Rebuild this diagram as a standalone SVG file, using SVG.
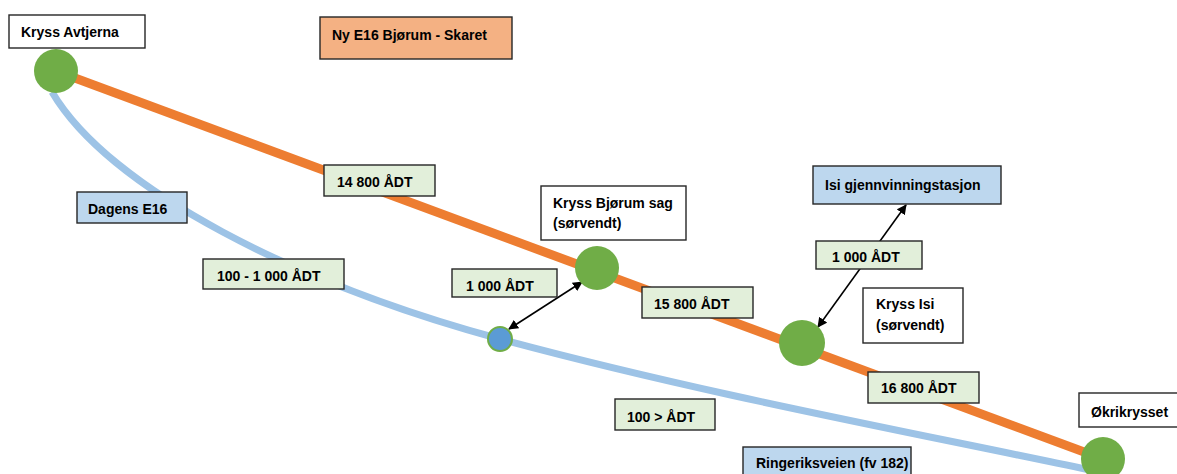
<svg xmlns="http://www.w3.org/2000/svg" width="1177" height="474" viewBox="0 0 1177 474">
  <style>
    .lbl { font-family: "Liberation Sans", Arial, sans-serif; font-weight: bold; font-size: 14px; fill: #000; }
    .box { stroke: #262626; stroke-width: 1.4; }
    .white { fill: #ffffff; }
    .green { fill: #E2EFDA; }
    .blue { fill: #BDD7EE; }
    .orange { fill: #F4B183; }
    .junc { fill: #70AD47; }
    .road-old { fill: none; stroke: #9DC3E6; stroke-width: 7; stroke-linecap: butt; }
    .road-new { fill: none; stroke: #ED7D31; stroke-width: 9; }
    .arrow { stroke: #000; stroke-width: 1.6; fill: none; marker-start: url(#ah); marker-end: url(#ah); }
  </style>
  <defs>
    <marker id="ah" viewBox="0 0 10 10" refX="9" refY="5" markerWidth="10" markerHeight="10" markerUnits="userSpaceOnUse" orient="auto-start-reverse">
      <path d="M0,0 L10,5 L0,10 Z" fill="#000"/>
    </marker>
  </defs>
  <rect width="1177" height="474" fill="#ffffff"/>

  <g id="connectors">
    <path class="road-old" d="M52,92 C110,190 300,285 500,339 C700,393 900,430 1090,470"/>
    <line class="road-new" x1="56" y1="71" x2="1103" y2="459"/>
    <line class="arrow" x1="509" y1="329" x2="582" y2="282"/>
    <line class="arrow" x1="906" y1="205" x2="818" y2="327"/>
  </g>

  <g id="junction-avtjerna"><circle class="junc" cx="56" cy="71" r="22"/></g>
  <g id="junction-bjorum"><circle class="junc" cx="597" cy="268" r="22"/></g>
  <g id="junction-isi"><circle class="junc" cx="802" cy="343" r="23"/></g>
  <g id="junction-okri"><circle class="junc" cx="1103" cy="459" r="22"/></g>
  <g id="junction-old"><circle cx="500" cy="339" r="12" fill="#5B9BD5" stroke="#70AD47" stroke-width="2"/></g>

  <g id="label-avtjerna"><rect class="box white" x="9" y="15" width="136" height="33"/><text class="lbl" x="21" y="37">Kryss Avtjerna</text></g>
  <g id="label-ny-e16"><rect class="box orange" x="320" y="17" width="192" height="42"/><text class="lbl" x="332" y="40">Ny E16 Bjørum - Skaret</text></g>
  <g id="label-14800"><rect class="box green" x="324" y="165" width="111" height="31"/><text class="lbl" x="337" y="187">14 800 ÅDT</text></g>
  <g id="label-dagens"><rect class="box blue" x="77" y="192" width="110" height="31"/><text class="lbl" x="88" y="214">Dagens E16</text></g>
  <g id="label-100-1000"><rect class="box green" x="203" y="259" width="141" height="30"/><text class="lbl" x="217" y="281">100 - 1 000 ÅDT</text></g>
  <g id="label-bjorum"><rect class="box white" x="541" y="186" width="145" height="54"/><text class="lbl" x="553" y="208">Kryss Bjørum sag</text><text class="lbl" x="553" y="228">(sørvendt)</text></g>
  <g id="label-1000-left"><rect class="box green" x="452" y="269" width="105" height="28"/><text class="lbl" x="466" y="291">1 000 ÅDT</text></g>
  <g id="label-15800"><rect class="box green" x="642" y="287" width="111" height="31"/><text class="lbl" x="654" y="309">15 800 ÅDT</text></g>
  <g id="label-isi-gj"><rect class="box blue" x="813" y="166" width="188" height="38"/><text class="lbl" x="825" y="190">Isi gjennvinningstasjon</text></g>
  <g id="label-1000-right"><rect class="box green" x="816" y="241" width="106" height="28"/><text class="lbl" x="832" y="262">1 000 ÅDT</text></g>
  <g id="label-isi"><rect class="box white" x="863" y="288" width="100" height="55"/><text class="lbl" x="876" y="309">Kryss Isi</text><text class="lbl" x="876" y="330">(sørvendt)</text></g>
  <g id="label-100"><rect class="box green" x="615" y="399" width="100" height="31"/><text class="lbl" x="627" y="422">100 &gt; ÅDT</text></g>
  <g id="label-16800"><rect class="box green" x="868" y="372" width="111" height="31"/><text class="lbl" x="881" y="393">16 800 ÅDT</text></g>
  <g id="label-okri"><rect class="box white" x="1079" y="393" width="100" height="34"/><text class="lbl" x="1091" y="417">Økrikrysset</text></g>
  <g id="label-ringeriks"><rect class="box blue" x="743" y="447" width="168" height="40"/><text class="lbl" x="756" y="468">Ringeriksveien (fv 182)</text></g>
</svg>
